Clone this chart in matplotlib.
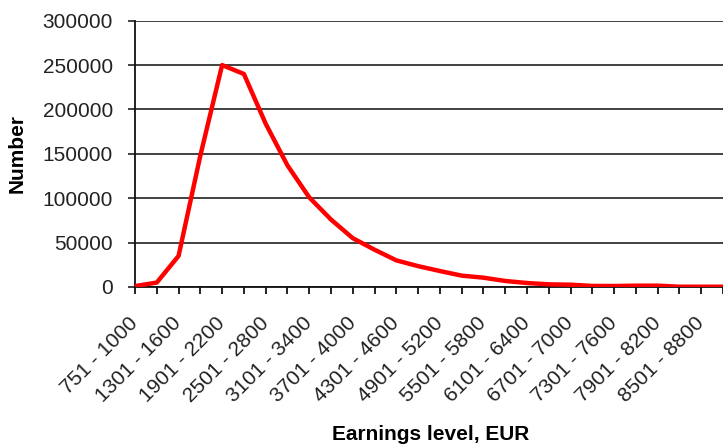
import matplotlib
matplotlib.use("Agg")
import matplotlib.pyplot as plt

categories = ["751 - 1000", "1001 - 1300", "1301 - 1600", "1601 - 1900",
              "1901 - 2200", "2201 - 2500", "2501 - 2800", "2801 - 3100",
              "3101 - 3400", "3401 - 3700", "3701 - 4000", "4001 - 4300",
              "4301 - 4600", "4601 - 4900", "4901 - 5200", "5201 - 5500",
              "5501 - 5800", "5801 - 6100", "6101 - 6400", "6401 - 6700",
              "6701 - 7000", "7001 - 7300", "7301 - 7600", "7601 - 7900",
              "7901 - 8200", "8201 - 8500", "8501 - 8800", "8801 - 9100"]
counts = [1000, 5000, 35000, 148000, 250000, 240000, 184000, 137000,
          101000, 76000, 55000, 42000, 30000, 23500, 18000, 12800,
          10500, 6800, 4500, 3000, 2600, 1200, 1100, 1500,
          1500, 300, 300, 300]
yticks = [0, 50000, 100000, 150000, 200000, 250000, 300000]

plt.rcParams['font.family'] = ['Liberation Sans', 'DejaVu Sans']

fig = plt.figure(figsize=(7.23, 4.44), dpi=100)
ax = fig.add_axes([135/723, 1 - 287/444, 1 - 135/723, (287 - 20.7)/444])

x = list(range(len(categories)))
ax.plot(x, counts, color='#ff0000', lw=3.2, solid_joinstyle='round', clip_on=True, zorder=3)

ax.set_ylim(0, 300000)
ax.set_xlim(0, 26.8)
ax.set_yticks(yticks)
ax.set_yticklabels([str(v) for v in yticks])
ax.yaxis.grid(True, color='#333333', lw=1.3)
ax.set_axisbelow(True)

ax.set_xticks(x)
ax.set_xticklabels([c if i % 2 == 0 else "" for i, c in enumerate(categories)],
                   rotation=45, ha='right', va='center', rotation_mode='anchor')

for s in ['top', 'right']:
    ax.spines[s].set_visible(False)
for s in ['left', 'bottom']:
    ax.spines[s].set_color('#111111')
    ax.spines[s].set_linewidth(1.3)

ax.tick_params(axis='y', direction='out', length=5, width=1.3, color='#333333',
               pad=11, labelsize=15, labelcolor='#222222')
ax.tick_params(axis='x', direction='out', length=5, width=1.3, color='#111111',
               pad=19, labelsize=15, labelcolor='#222222')

ax.set_ylabel("Number", fontsize=15, fontweight='bold', va='center', ha='center')
ax.yaxis.set_label_coords(-0.2007, 0.5)
ax.set_xlabel("Earnings level, EUR", fontsize=15, fontweight='bold', va='center')
ax.xaxis.set_label_coords(0.503, -0.555)

fig.savefig("out.png", dpi=100)
